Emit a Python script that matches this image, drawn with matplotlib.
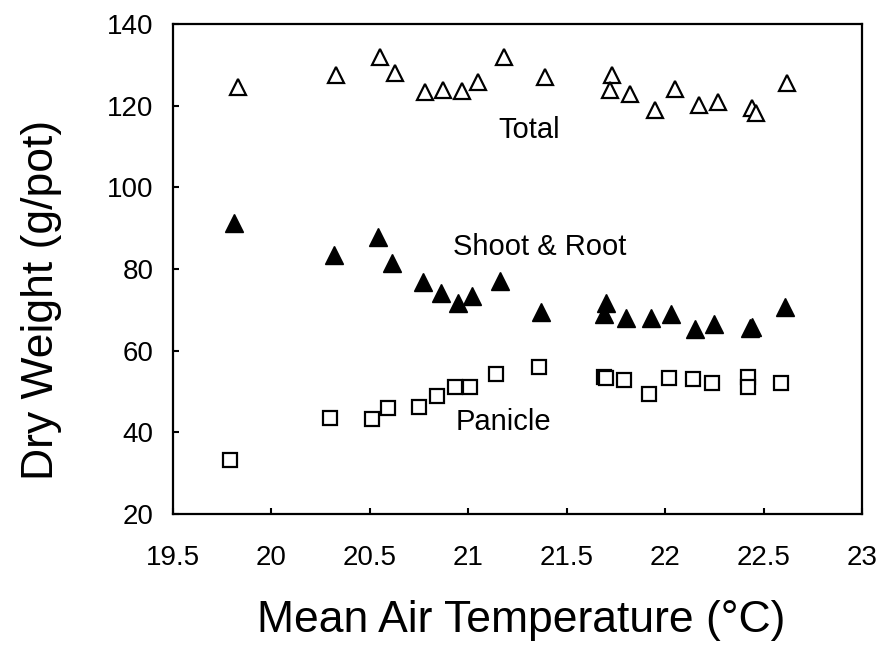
import matplotlib
matplotlib.use('Agg')
import matplotlib.pyplot as plt

plt.rcParams['font.family'] = ['Liberation Sans', 'DejaVu Sans']

# Total dry weight (open triangles)
total_temp = [19.83, 20.33, 20.55, 20.63, 20.78, 20.87, 20.97, 21.05, 21.18, 21.39,
              21.73, 21.72, 21.82, 21.95, 22.05, 22.17, 22.27, 22.44, 22.46, 22.62]
total_wt = [124.6, 127.5, 132.0, 128.1, 123.4, 123.8, 123.7, 125.9, 132.0, 127.0,
            127.5, 123.8, 122.9, 118.9, 124.1, 120.2, 120.8, 119.4, 118.3, 125.5]

# Shoot & root dry weight (filled triangles)
shoot_temp = [19.81, 20.32, 20.54, 20.61, 20.77, 20.86, 20.95, 21.02, 21.16, 21.37,
              21.70, 21.69, 21.80, 21.93, 22.03, 22.15, 22.25, 22.43, 22.44, 22.61]
shoot_wt = [91.2, 83.4, 87.8, 81.4, 76.9, 74.2, 71.6, 73.4, 77.1, 69.5,
            71.7, 69.0, 67.9, 67.9, 69.1, 65.2, 66.5, 65.5, 65.8, 70.8]

# Panicle dry weight (open squares)
pan_temp = [19.79, 20.30, 20.51, 20.59, 20.75, 20.84, 20.93, 21.01, 21.14, 21.36,
            21.69, 21.70, 21.79, 21.92, 22.02, 22.14, 22.24, 22.42, 22.42, 22.59]
pan_wt = [33.2, 43.4, 43.3, 45.9, 46.3, 48.9, 51.2, 51.2, 54.3, 56.1,
          53.6, 53.2, 52.8, 49.4, 53.2, 53.1, 52.0, 53.5, 51.2, 52.1]

xticks = [19.5, 20, 20.5, 21, 21.5, 22, 22.5, 23]
xtick_labels = ['19.5', '20', '20.5', '21', '21.5', '22', '22.5', '23']
yticks = [20, 40, 60, 80, 100, 120, 140]

fig = plt.figure(figsize=(8.79, 6.58), dpi=100)
ax = fig.add_axes([173 / 879, 1 - 514 / 658, 689 / 879, 490 / 658])

ax.plot(total_temp, total_wt, linestyle='none', marker='^', ms=12,
        mfc='white', mec='black', mew=1.6)
ax.plot(shoot_temp, shoot_wt, linestyle='none', marker='^', ms=13,
        mfc='black', mec='black', mew=1.0)
ax.plot(pan_temp, pan_wt, linestyle='none', marker='s', ms=10,
        mfc='white', mec='black', mew=1.6)

ax.text(21.31, 114.0, 'Total', fontsize=21, ha='center', va='center')
ax.text(21.365, 85.4, 'Shoot & Root', fontsize=21, ha='center', va='center')
ax.text(21.18, 42.5, 'Panicle', fontsize=21, ha='center', va='center')

ax.set_xlim(19.5, 23)
ax.set_ylim(20, 140)
ax.set_xticks(xticks)
ax.set_xticklabels(xtick_labels)
ax.set_yticks(yticks)

ax.tick_params(direction='in', length=4, width=1.5, labelsize=20)
ax.tick_params(axis='x', pad=22)
ax.tick_params(axis='y', pad=14)
for s in ax.spines.values():
    s.set_linewidth(1.6)

ax.set_xlabel('Mean Air Temperature (°C)', fontsize=32)
ax.set_ylabel('Dry Weight (g/pot)', fontsize=32)
ax.xaxis.set_label_coords(0.505, -0.176)
ax.yaxis.set_label_coords(-0.161, 0.437)

fig.savefig('out.png', dpi=100)
